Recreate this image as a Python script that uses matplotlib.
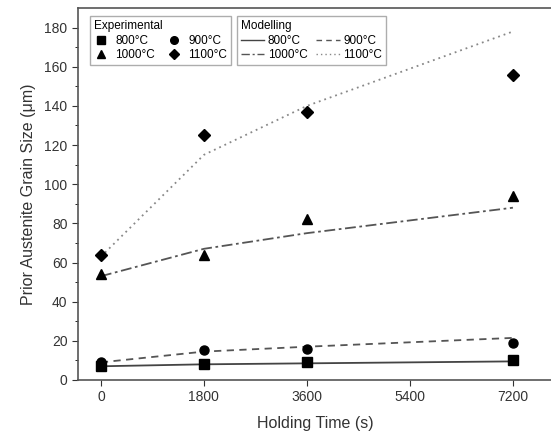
import matplotlib.pyplot as plt
from matplotlib.lines import Line2D

plt.rcParams['font.family'] = ['Liberation Sans', 'DejaVu Sans']

# experimental data
time_exp = [0, 1800, 3600, 7200]
exp_800 = [7, 8, 9, 10]
exp_900 = [9, 15.5, 16, 19]
exp_1000 = [54, 64, 82, 94]
exp_1100 = [64, 125, 137, 156]

# modelling curves
time_mod = [0, 1800, 3600, 7200]
mod_800 = [7, 8, 8.5, 9.5]
mod_900 = [9, 14.5, 17, 21.5]
mod_1000 = [53, 67, 75, 88]
mod_1100 = [63, 115, 140, 178]

temps = ['800°C', '900°C', '1000°C', '1100°C']
markers = ['s', 'o', '^', 'D']
styles = ['-', (0, (4, 3)), (0, (6, 2, 1.5, 2)), (0, (1, 2.2))]
mod_colors = ['#444444', '#555555', '#555555', '#888888']

fig = plt.figure(figsize=(5.51, 4.40), dpi=100)
ax = fig.add_axes([0.1416, 0.1364, 0.862, 0.8454])

exp_series = [exp_800, exp_900, exp_1000, exp_1100]
mod_series = [mod_800, mod_900, mod_1000, mod_1100]

for vals, ls, c in zip(mod_series, styles, mod_colors):
    ax.plot(time_mod, vals, linestyle=ls, color=c, lw=1.3, zorder=2)
for vals, m in zip(exp_series, markers):
    ax.plot(time_exp, vals, linestyle='none', marker=m, color='black',
            markersize=6.5 if m != 'D' else 6, zorder=3)

ax.set_xlim(-400, 7900)
ax.set_ylim(0, 190)
ax.set_xticks([0, 1800, 3600, 5400, 7200])
ax.set_yticks(range(0, 181, 20))
ax.set_yticks(range(0, 181, 10), minor=True)
ax.tick_params(labelsize=10, colors='#333333', direction='out', length=4)
ax.tick_params(which='minor', length=2.5)
for s in ax.spines.values():
    s.set_color('#555555')
    s.set_linewidth(1.2)
ax.spines['right'].set_visible(False)

ax.set_xlabel('Holding Time (s)', fontsize=11.5, color='#333333', labelpad=8)
ax.set_ylabel('Prior Austenite Grain Size (μm)', fontsize=11.5, color='#333333', labelpad=6)

order = [0, 2, 1, 3]
exp_handles = [Line2D([], [], linestyle='none', marker=markers[i], color='black',
                      markersize=5.5) for i in order]
mod_handles = [Line2D([], [], linestyle=styles[i], color=mod_colors[i], lw=1.0)
               for i in order]
labels = [temps[i] for i in order]

leg1 = ax.legend(exp_handles, labels, title='Experimental', ncol=2, fontsize=8.5,
                 title_fontsize=8.5, alignment='left', loc='upper left',
                 bbox_to_anchor=(0.025, 0.978), borderaxespad=0, frameon=True,
                 fancybox=False, edgecolor='#999999', handlelength=1.2,
                 handletextpad=0.6, columnspacing=1.0, borderpad=0.35,
                 labelspacing=0.2)
leg1.get_frame().set_linewidth(1.0)
ax.add_artist(leg1)

leg2 = ax.legend(mod_handles, labels, title='Modelling', ncol=2, fontsize=8.5,
                 title_fontsize=8.5, alignment='left', loc='upper left',
                 bbox_to_anchor=(0.334, 0.978), borderaxespad=0, frameon=True,
                 fancybox=False, edgecolor='#999999', handlelength=2.0,
                 handletextpad=0.3, columnspacing=0.7, borderpad=0.35,
                 labelspacing=0.2)
leg2.get_frame().set_linewidth(1.0)

fig.savefig('out.png', dpi=100)
